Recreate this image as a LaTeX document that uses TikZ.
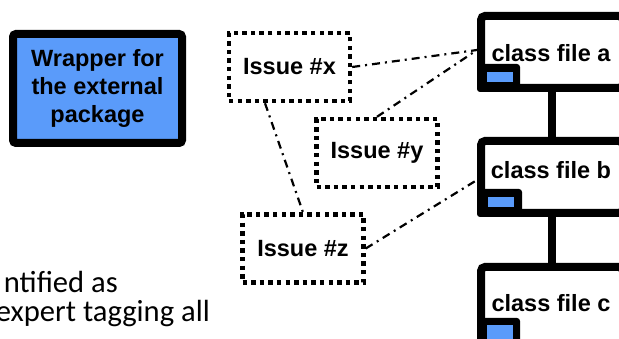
\documentclass[tikz,border=0pt]{standalone}
\usepackage{fontspec}
\setmainfont{Liberation Sans}
\newfontfamily\calfont{Carlito}
\definecolor{boxblue}{RGB}{90,155,250}
\begin{document}
\begin{tikzpicture}[x=1pt,y=-1pt,
  boxfont/.style={font=\bfseries\fontsize{23.5}{28}\selectfont},
  wrapbox/.style={draw, line width=8pt, rounded corners=3pt, fill=boxblue, align=center, inner sep=0pt, boxfont},
  issuebox/.style={draw, line width=4.4pt, dash pattern=on 4.4pt off 4.2pt, minimum width=121pt, minimum height=68pt, inner sep=0pt, boxfont},
  classbox/.style={draw, line width=8pt, rounded corners=4pt, fill=white, minimum width=142pt, minimum height=72pt, inner sep=0pt},
  classtext/.style={anchor=base, inner sep=0pt, boxfont},
  tabblack/.style={fill=black, rounded corners=3pt},
  tabblue/.style={fill=boxblue},
  link/.style={line width=2.2pt, dash pattern=on 8pt off 5pt on 2pt off 5pt},
  chain/.style={line width=8pt},
  bodytext/.style={anchor=base east, inner sep=0pt, font=\calfont\fontsize{30.6}{36}\selectfont}]
\useasboundingbox (0,0) rectangle (619,339);
\clip (0,0) rectangle (619,339);

% wrapper
\node[wrapbox, minimum width=169pt, minimum height=109pt] (wrap) at (97.5,88.5) {Wrapper for\\the external\\package};

% class files
\node[classbox] (ca) at (552,52) {};
\node[classbox] (cb) at (552,177) {};
\node[classbox, minimum height=93pt] (cc) at (552,313.5) {};
\draw[chain] (ca.south) -- (cb.north);
\draw[chain] (cb.south) -- (cc.north);

\node[classtext] (ta) at (551,62) {class file a};
\node[classtext] (tb) at (551,179) {class file b};
\node[classtext] (tc) at (551,312) {class file c};

% tabs
\fill[tabblack] (ca.south west) rectangle ++(43,-28);
\fill[tabblue] ([shift={(10,-10)}]ca.south west) rectangle ++(26,-10);
\fill[tabblack] (cb.south west) rectangle ++(45,-28);
\fill[tabblue] ([shift={(11,-10)}]cb.south west) rectangle ++(26,-10);
\fill[tabblack] (477,360) rectangle (520,318);
\fill[tabblue] (487,345) rectangle (513,325);

% issues
\node[issuebox] (ix) at (289.5,67) {Issue \#x};
\node[issuebox] (iy) at (377,153) {Issue \#y};
\node[issuebox] (iz) at (303,248.5) {Issue \#z};

% links
\draw[link] (ix.east) -- ([yshift=2pt]ca.west);
\draw[link] (iy.north) -- ([yshift=2pt]ca.west);
\draw[link] ([xshift=-24.5pt]ix.south) -- (iz.north);
\draw[link] (iz.east) -- ([yshift=-3pt]cb.west);

% body text
\node[bodytext] (t1) at (118,293) {ntified as};
\node[bodytext] (t2) at (210,322) {expert tagging all};
\end{tikzpicture}
\end{document}
